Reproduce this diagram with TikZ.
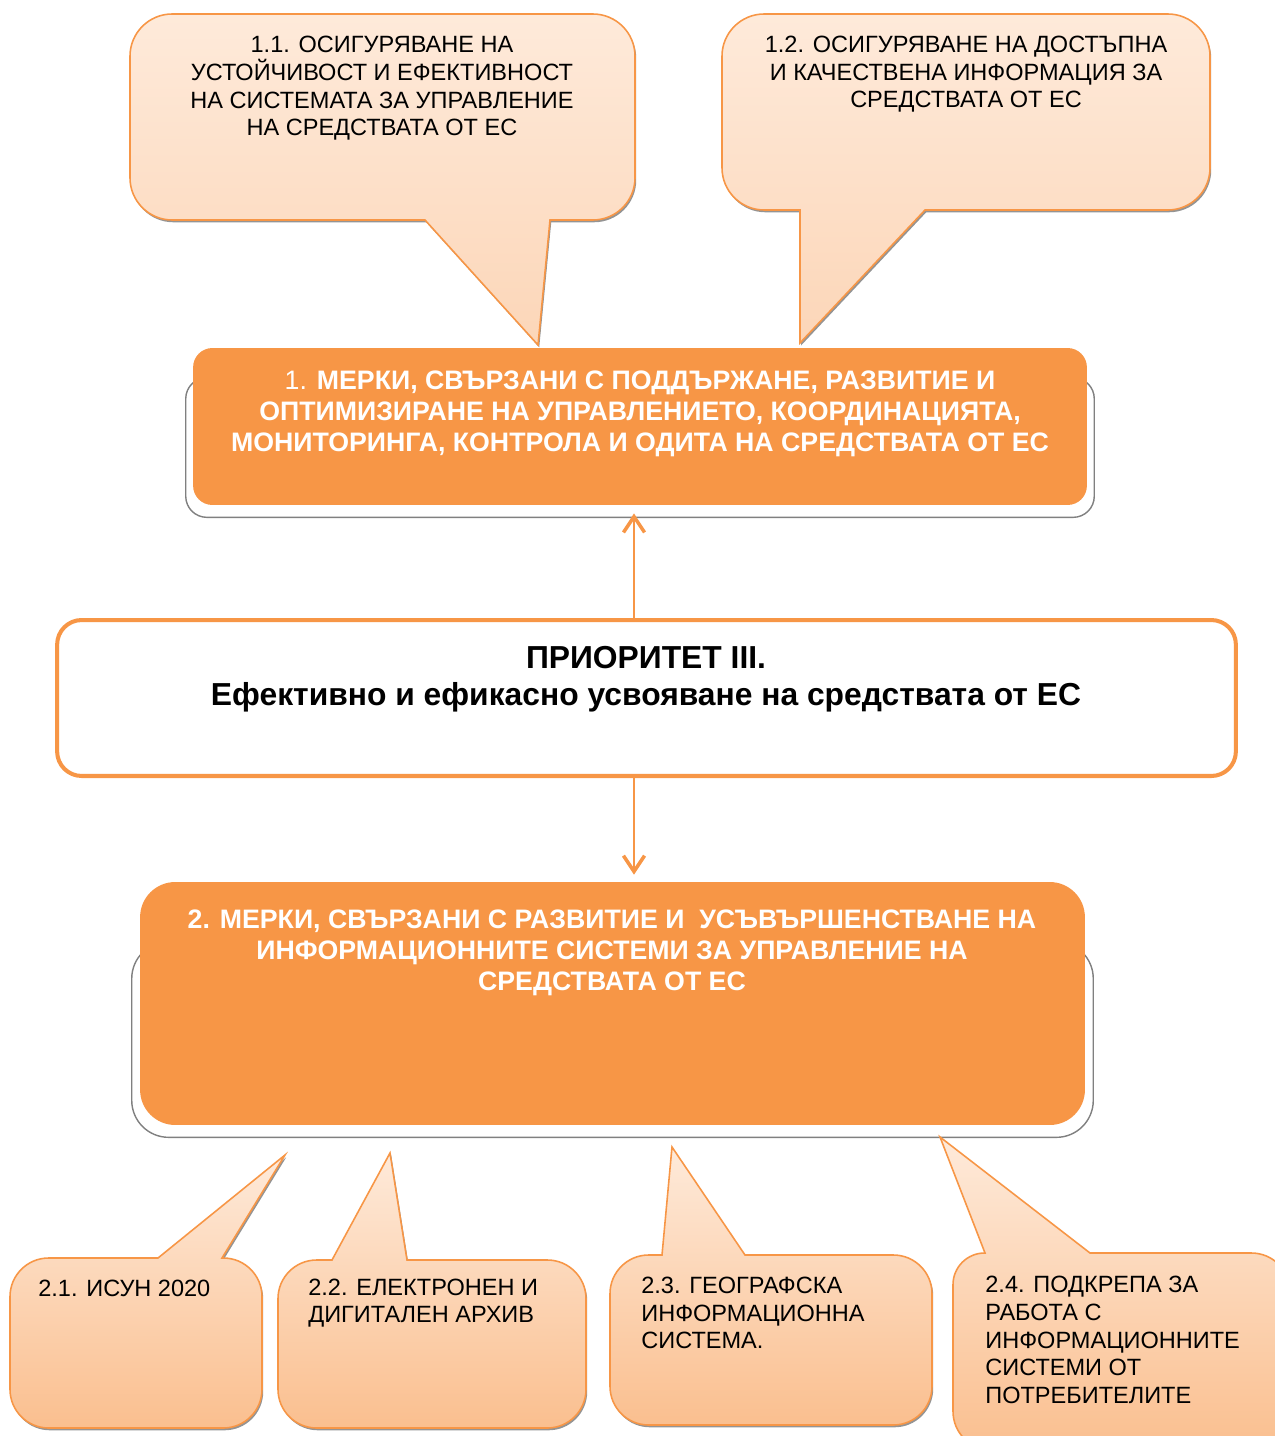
\documentclass[tikz,border=0pt]{standalone}
\usepackage{fontspec}
\setmainfont{Liberation Sans}
\usetikzlibrary{arrows.meta}
\usetikzlibrary{shadows}
\usetikzlibrary{backgrounds}

\definecolor{accent}{RGB}{247,150,70}
\definecolor{peachtop}{RGB}{254,234,218}
\definecolor{peachmid}{RGB}{250,191,143}
\definecolor{peachlow}{RGB}{252,214,184}

\tikzset{
  bubble/.style = {draw=accent, line width=0.9pt,
    drop shadow={shadow xshift=0.7pt, shadow yshift=-1.3pt, opacity=0.6, fill=black!70}},
  bubbleup/.style = {bubble, top color=peachtop, middle color=peachmid, bottom color=peachlow},
  bubbledown/.style = {bubble, top color=peachtop, bottom color=peachmid},
  bubbletext/.style = {font=\fontsize{13.4pt}{15.7pt}\selectfont, inner sep=0pt},
  measure/.style = {fill=accent, rounded corners=11pt, inner sep=0pt},
  measuretext/.style = {text=white, font=\bfseries\fontsize{15.2pt}{17.6pt}\selectfont, align=center, inner sep=0pt},
  halo/.style = {fill=white, draw=black!50, line width=0.8pt, rounded corners=12pt},
  priority/.style = {draw=accent, line width=2.3pt, fill=white, rounded corners=14pt, inner sep=0pt},
  link/.style = {accent, line width=1.6pt, -{Straight Barb[length=9pt,width=12pt,line width=2pt]}}
}

\begin{document}
\begin{tikzpicture}[x=0.02cm, y=-0.02cm]
  \useasboundingbox (0,0) rectangle (1274,1436);
  \coordinate (axis) at (634,0);

  % callouts above
  \draw[bubbleup] (380,14) [rounded corners=24pt] -- (635,14) -- (635,220) [sharp corners] -- (550,220)
    -- (538,345) -- (425,220) [rounded corners=24pt] -- (130,220) -- (130,14) -- cycle;
  \draw[bubbleup] (960,14) [rounded corners=24pt] -- (1210,14) -- (1210,210) [sharp corners] -- (925,210)
    -- (800,343) -- (800,210) [rounded corners=24pt] -- (722,210) -- (722,14) -- cycle;
  \node[bubbletext, align=center] (t11) at (382,88.5) {1.1. ОСИГУРЯВАНЕ НА\\УСТОЙЧИВОСТ И ЕФЕКТИВНОСТ\\НА СИСТЕМАТА ЗА УПРАВЛЕНИЕ\\НА СРЕДСТВАТА ОТ ЕС};
  \node[bubbletext, align=center] (t12) at (966,74.5) {1.2. ОСИГУРЯВАНЕ НА ДОСТЪПНА\\И КАЧЕСТВЕНА ИНФОРМАЦИЯ ЗА\\СРЕДСТВАТА ОТ ЕС};

  % measures 1
  \node[measure, minimum width=17.88cm, minimum height=3.14cm] (m1) at (640,426.5) {};
  \node[measuretext] (t1) at (640,414) {{\mdseries 1.} МЕРКИ, СВЪРЗАНИ С ПОДДЪРЖАНЕ, РАЗВИТИЕ И\\ОПТИМИЗИРАНЕ НА УПРАВЛЕНИЕТО, КООРДИНАЦИЯТА,\\МОНИТОРИНГА, КОНТРОЛА И ОДИТА НА СРЕДСТВАТА ОТ ЕС};

  % priority
  \node[priority, minimum width=23.58cm, minimum height=3.12cm] (prio) at (646.5,698) {};
  \node[font=\bfseries\fontsize{18.1pt}{21pt}\selectfont, align=center, inner sep=0pt] (pt) at (646,679) {ПРИОРИТЕТ III.\\Ефективно и ефикасно усвояване на средствата от ЕС};

  % measures 2
  \node[measure, rounded corners=20pt, minimum width=18.9cm, minimum height=4.86cm] (m2) at (612.5,1003.5) {};
  \node[measuretext] (t2) at (612,952.5) {2. МЕРКИ, СВЪРЗАНИ С РАЗВИТИЕ И~ УСЪВЪРШЕНСТВАНЕ НА\\ИНФОРМАЦИОННИТЕ СИСТЕМИ ЗА УПРАВЛЕНИЕ НА\\СРЕДСТВАТА ОТ ЕС};

  \begin{pgfonlayer}{background}
    \draw[halo] ([shift={(-7,30)}]m1.north west) rectangle ([shift={(7,12)}]m1.south east);
    \draw[halo, rounded corners=21pt] ([shift={(-8,60)}]m2.north west) rectangle ([shift={(8,12)}]m2.south east);
  \end{pgfonlayer}

  \draw[link, shorten >=4.6pt] (prio.north -| axis) -- (m1.south -| axis);
  \draw[link, shorten >=4pt] (prio.south -| axis) -- (m2.north -| axis);

  % callouts below
  \draw[bubbledown] (10,1340) [rounded corners=22pt] -- (10,1258) [sharp corners] -- (158,1258)
    -- (285,1155) -- (222,1258) [rounded corners=22pt] -- (262,1258) -- (262,1428) -- (10,1428) -- cycle;
  \draw[bubbledown] (278,1340) [rounded corners=22pt] -- (278,1260) [sharp corners] -- (332,1260)
    -- (390,1153) -- (407,1260) [rounded corners=22pt] -- (586,1260) -- (586,1428) -- (278,1428) -- cycle;
  \draw[bubbledown] (610,1340) [rounded corners=22pt] -- (610,1255) [sharp corners] -- (662,1255)
    -- (672,1147) -- (745,1255) [rounded corners=22pt] -- (932,1255) -- (932,1425) -- (610,1425) -- cycle;
  \draw[bubbledown] (953,1340) [rounded corners=18pt] -- (953,1253) [sharp corners] -- (985,1253)
    -- (940,1137) -- (1090,1253) [rounded corners=22pt] -- (1290,1253) -- (1290,1450) -- (953,1450) -- cycle;
  \node[bubbletext, anchor=west, align=left] (t21) at (38,1288) {2.1. ИСУН 2020};
  \node[bubbletext, anchor=west, align=left] (t22) at (308,1303) {2.2. ЕЛЕКТРОНЕН И\\ДИГИТАЛЕН АРХИВ};
  \node[bubbletext, anchor=west, align=left] (t23) at (641,1313) {2.3. ГЕОГРАФСКА\\ИНФОРМАЦИОННА\\СИСТЕМА.};
  \node[bubbletext, anchor=west, align=left] (t24) at (985,1340) {2.4. ПОДКРЕПА ЗА\\РАБОТА С\\ИНФОРМАЦИОННИТЕ\\СИСТЕМИ ОТ\\ПОТРЕБИТЕЛИТЕ};
\end{tikzpicture}
\end{document}
